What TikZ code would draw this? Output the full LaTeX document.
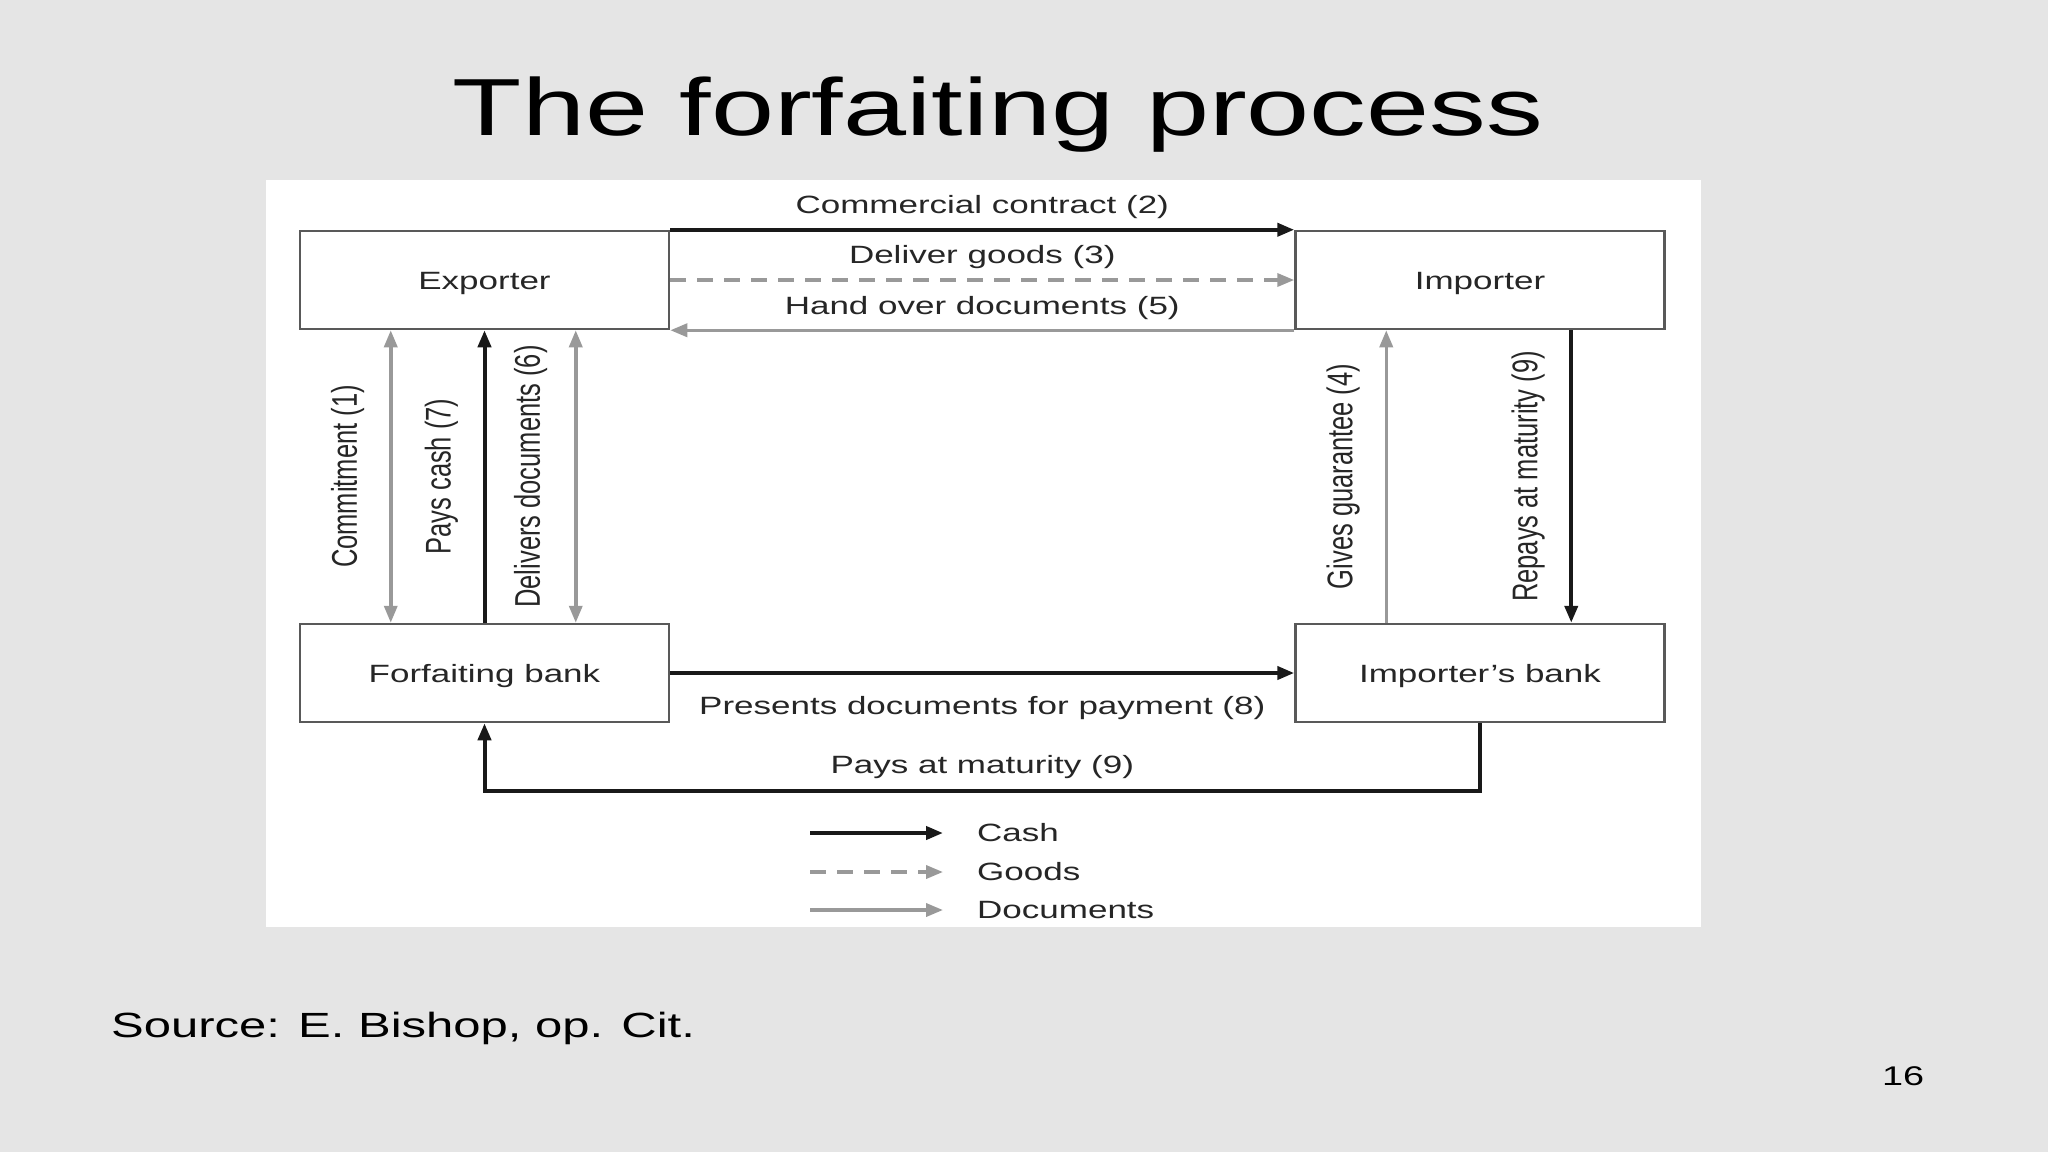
\documentclass[tikz,border=0pt]{standalone}
\usepackage{fontspec}
\setmainfont{Liberation Sans}[FakeStretch=1.4]
\newfontfamily\vfont{Liberation Sans}
\usetikzlibrary{arrows.meta}

\newcommand\lblsize{\fontsize{25}{30}\selectfont}

\begin{document}
\begin{tikzpicture}[x=1pt, y=-1pt, >={Triangle[length=17pt,width=13pt]},
    box/.style={draw=black!65, line width=2.5pt, minimum width=369pt, minimum height=98pt,
      inner sep=0pt, text height=24pt, text depth=5pt, text=black!85, font=\lblsize},
    cash/.style={draw=black!90, line width=4pt},
    goods/.style={draw=black!40, line width=3.5pt, dash pattern=on 16pt off 11pt},
    docs/.style={draw=black!40, line width=3.5pt},
    lbl/.style={text=black!85, font=\lblsize},
    vlabel/.style={rotate=90, yscale=1.4, text=black!85, font=\vfont\fontsize{25.5}{30}\selectfont},
    legtext/.style={anchor=west, inner sep=0pt, text=black!85, font=\lblsize}]
    \useasboundingbox (0,0) rectangle (2048,1152);
    \fill[black!10] (0,0) rectangle (2048,1152);
    \fill[white] (266,180) rectangle (1701,927);
    \node[anchor=base, font=\fontsize{81}{90}\selectfont] (title) at (998,135) {The forfaiting process};
    % parties
    \node[box] (exp) at (484.5,280) {Exporter};
    \node[box] (imp) at (1480,280) {Importer};
    \node[box] (ffb) at (484.5,673) {Forfaiting bank};
    \node[box] (ib) at (1480,673) {Importer's bank};
    % exporter <-> importer
    \draw[cash, ->] (exp.north east) -- (imp.north west) node[lbl, midway, yshift=23pt] {Commercial contract (2)};
    \draw[goods, ->] (exp.east) -- (imp.west) node[lbl, midway, yshift=23pt] {Deliver goods (3)};
    \draw[docs, ->] (imp.south west) -- (exp.south east) node[lbl, midway, yshift=22pt] {Hand over documents (5)};
    % exporter <-> forfaiting bank
    \draw[docs, <->] ([xshift=92pt]exp.south west) -- ([xshift=92pt]ffb.north west) node[midway, xshift=-43pt, vlabel] {Commitment (1)};
    \draw[cash, ->] (ffb.north) -- (exp.south) node[midway, xshift=-43pt, vlabel] {Pays cash (7)};
    \draw[docs, <->] ([xshift=277pt]exp.south west) -- ([xshift=277pt]ffb.north west) node[midway, xshift=-45pt, vlabel] {Delivers documents (6)};
    % importer <-> importer's bank
    \draw[docs, ->] ([xshift=92pt]ib.north west) -- ([xshift=92pt]imp.south west) node[midway, xshift=-43pt, vlabel] {Gives guarantee (4)};
    \draw[cash, ->] ([xshift=277pt]imp.south west) -- ([xshift=277pt]ib.north west) node[midway, xshift=-43pt, vlabel] {Repays at maturity (9)};
    % banks
    \draw[cash, ->] (ffb.east) -- (ib.west) node[lbl, midway, yshift=-35pt] {Presents documents for payment (8)};
    \draw[cash, ->] (ib.south) -- ++(0,68) -| (ffb.south) node[lbl, pos=0.25, yshift=24pt] {Pays at maturity (9)};
    % legend
    \node[legtext] (lcash) at (977,833) {Cash};
    \node[legtext] (lgoods) at (977,872) {Goods};
    \node[legtext] (ldocs) at (977,910) {Documents};
    \draw[cash, ->] ([xshift=-167pt]lcash.west) -- ([xshift=-34pt]lcash.west);
    \draw[goods, ->] ([xshift=-167pt]lgoods.west) -- ([xshift=-34pt]lgoods.west);
    \draw[docs, ->] ([xshift=-167pt]ldocs.west) -- ([xshift=-34pt]ldocs.west);
    % footer
    \node[anchor=base west, inner sep=0pt, font=\fontsize{35}{40}\selectfont] (src) at (111,1037) {Source: E. Bishop, op. Cit.};
    \node[anchor=base, font=\fontsize{27}{30}\selectfont] (page) at (1903,1085) {16};
\end{tikzpicture}
\end{document}
